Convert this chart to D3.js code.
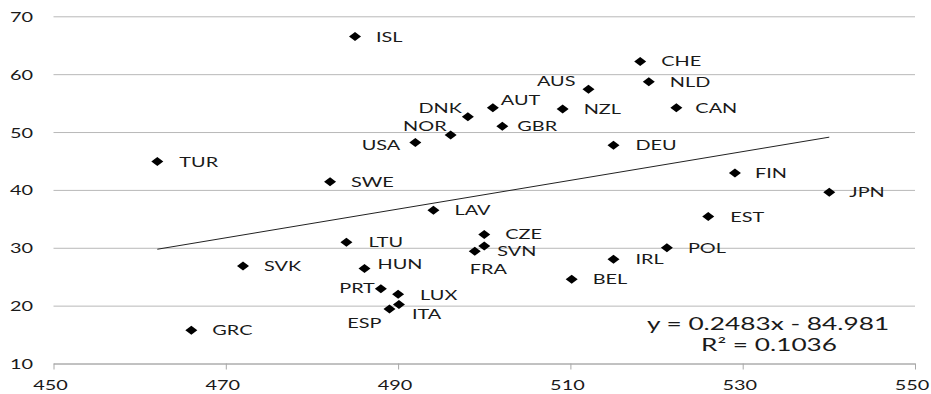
<!DOCTYPE html>
<html>
<head>
<meta charset="utf-8">
<script src="https://cdn.jsdelivr.net/npm/d3@7/dist/d3.min.js"></script>
<style>
  html, body { margin: 0; padding: 0; background: #fff; }
  svg { display: block; }
  text { font-family: Lato, "Open Sans", sans-serif; fill: #1a1a1a; }
</style>
</head>
<body>
<svg id="chart" width="931" height="394"></svg>
<script>
// Country codes and their values (x: score, y: share)
const countries = ["ISL","TUR","AUS","DNK","AUT","NZL","NOR","GBR","USA","SWE",
  "DEU","CHE","NLD","CAN","FIN","JPN","SVK","GRC","LAV","CZE",
  "SVN","FRA","LTU","HUN","PRT","LUX","ITA","ESP","BEL","IRL","POL","EST"];
const xValues = [485.0, 462.05, 512.1, 498.1, 501.0, 509.1, 496.1, 502.1, 492.0, 482.1,
  515.0, 518.1, 519.1, 522.3, 529.1, 540.05, 472.0, 466.0, 494.1, 500.0,
  500.0, 498.9, 484.0, 486.1, 488.0, 490.0, 490.1, 489.0, 510.15, 515.0, 521.2, 526.0];
const yValues = [66.5, 44.9, 57.4, 52.65, 54.2, 54.0, 49.5, 51.0, 48.2, 41.4,
  47.7, 62.2, 58.7, 54.2, 42.9, 39.6, 26.85, 15.75, 36.5, 32.3,
  30.3, 29.4, 30.95, 26.4, 22.9, 21.95, 20.2, 19.4, 24.55, 28.0, 30.0, 35.4];

// Axis ticks
const xTicks = [450, 470, 490, 510, 530, 550];
const yTicks = [10, 20, 30, 40, 50, 60, 70];

// Linear trend: y = slope * x + intercept
const trendSlope = 0.2483;
const trendIntercept = -84.981;
const rSquared = 0.1036;

// Label offsets (px) from each marker: [dx, dy, anchor]
const labelPos = {
  ISL: [21, 0, "start"], TUR: [22, 0, "start"], AUS: [-13, -8, "end"],
  DNK: [-6, -9, "end"], AUT: [8, -8, "start"], NZL: [21, 0, "start"],
  NOR: [-4, -9, "end"], GBR: [15, 0, "start"], USA: [-15, 3, "end"],
  SWE: [21, 0, "start"], DEU: [22, 0, "start"], CHE: [21, 0, "start"],
  NLD: [21, 0, "start"], CAN: [19, 0, "start"], FIN: [20, 0, "start"],
  JPN: [20, 0, "start"], SVK: [21, 0, "start"], GRC: [21, 0, "start"],
  LAV: [21, 0, "start"], CZE: [21, 0, "start"], SVN: [13, 5, "start"],
  FRA: [-5, 18, "start"], LTU: [22, 0, "start"], HUN: [13, -5, "start"],
  PRT: [-6, -1, "end"], LUX: [22, 1, "start"], ITA: [13, 10, "start"],
  ESP: [-8, 14, "end"], BEL: [21, 0, "start"], IRL: [22, 0, "start"],
  POL: [21, 0, "start"], EST: [22, 0, "start"]
};

const SX = 1.42;          // horizontal text stretch
const SX_EQ = 1.61;       // stretch for the trend equation
const svg = d3.select("#chart");

const x = d3.scaleLinear().domain([450, 550]).range([53.5, 915]);
const y = d3.scaleLinear().domain([10, 70]).range([363.5, 16.3]);

// Horizontal gridlines with y labels
const yAxis = svg.append("g")
  .attr("transform", `translate(${x.range()[0]},0)`)
  .call(d3.axisLeft(y).tickValues(yTicks).tickSize(-(x.range()[1] - x.range()[0])).tickPadding(0));
yAxis.select(".domain").remove();
yAxis.selectAll(".tick line").attr("stroke", "#b8b8b8").attr("stroke-width", 1);
yAxis.selectAll(".tick text")
  .attr("x", -20.5 / SX)
  .attr("dy", "0.36em")
  .attr("transform", `scale(${SX},1)`)
  .style("font-size", "14px")
  .attr("fill", "#1a1a1a");

// Bottom axis
const xAxis = svg.append("g")
  .attr("transform", `translate(0,${y(10)})`)
  .call(d3.axisBottom(x).tickValues(xTicks).tickSize(6).tickSizeOuter(0));
xAxis.select(".domain").attr("stroke", "#a8a8a8");
xAxis.selectAll(".tick line").attr("stroke", "#a8a8a8");
xAxis.selectAll(".tick text")
  .attr("x", -3.5 / SX)
  .attr("y", 26.5)
  .attr("dy", 0)
  .attr("transform", `scale(${SX},1)`)
  .style("font-size", "14px")
  .attr("fill", "#1a1a1a");

// Trend line across the data range
const xMin = d3.min(xValues), xMax = d3.max(xValues);
svg.append("line")
  .attr("x1", x(xMin)).attr("y1", y(trendSlope * xMin + trendIntercept))
  .attr("x2", x(xMax)).attr("y2", y(trendSlope * xMax + trendIntercept))
  .attr("stroke", "#222").attr("stroke-width", 1);

// Diamond markers
const pts = countries.map((c, i) => ({ c, xv: xValues[i], yv: yValues[i] }));
const diamond = "M0,-4.5L6,0L0,4.5L-6,0Z";
svg.append("g").selectAll("path").data(pts).join("path")
  .attr("d", diamond)
  .attr("transform", d => `translate(${x(d.xv)},${y(d.yv)})`)
  .attr("fill", "#000");

// Country labels
svg.append("g").selectAll("text").data(pts).join("text")
  .attr("transform", d => {
    const p = labelPos[d.c];
    return `translate(${x(d.xv) + p[0]},${y(d.yv) + p[1] + 5}) scale(${SX},1)`;
  })
  .attr("text-anchor", d => labelPos[d.c][2])
  .style("font-size", "14px")
  .text(d => d.c);

// Trend equation
const fmt = v => v.toString();
svg.append("text")
  .attr("transform", `translate(768,330) scale(${SX_EQ},1)`)
  .attr("text-anchor", "middle")
  .style("font-size", "16.3px")
  .text(`y = ${fmt(trendSlope)}x - ${fmt(-trendIntercept)}`);
svg.append("text")
  .attr("transform", `translate(769,351) scale(${SX_EQ},1)`)
  .attr("text-anchor", "middle")
  .style("font-size", "16.3px")
  .text(`R² = ${fmt(rSquared)}`);
</script>
</body>
</html>
